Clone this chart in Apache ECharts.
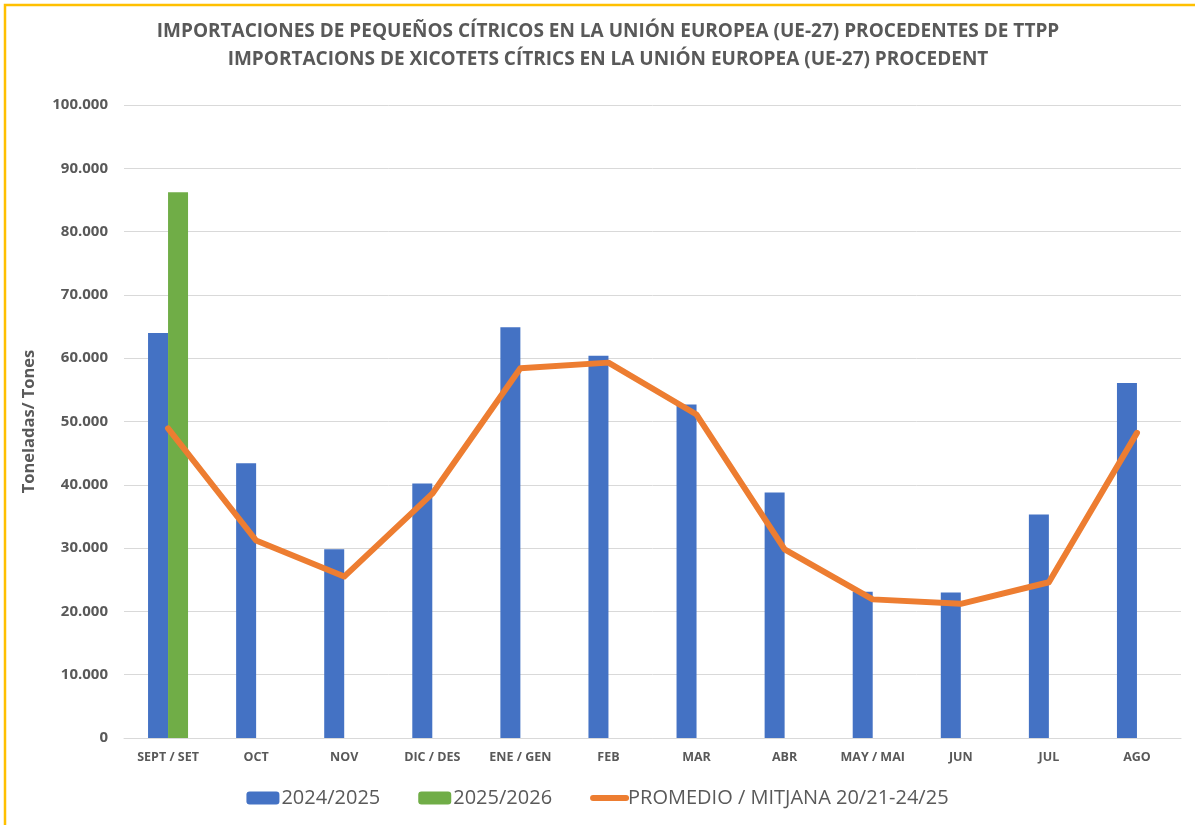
<!DOCTYPE html>
<html>
<head>
<meta charset="utf-8">
<script src="https://cdn.jsdelivr.net/npm/echarts@6/dist/echarts.min.js"></script>
<style>
  html, body { margin: 0; padding: 0; background: #fff; }
  #chart { width: 1195px; height: 825px; }
</style>
</head>
<body>
<div id="chart"></div>
<script>
// categories (months of the campaign)
const months = ['SEPT / SET', 'OCT', 'NOV', 'DIC / DES', 'ENE / GEN', 'FEB', 'MAR', 'ABR', 'MAY / MAI', 'JUN', 'JUL', 'AGO'];

// toneladas
const season2425 = [64000, 43400, 29800, 40200, 64900, 60400, 52700, 38800, 23100, 23000, 35300, 56100];
const season2526 = [86200, null, null, null, null, null, null, null, null, null, null, null];
const average2021_2425 = [48900, 31200, 25500, 38600, 58400, 59300, 51100, 29800, 21900, 21200, 24600, 48200];

const seriesNames = ['2024/2025', '2025/2026', 'PROMEDIO / MITJANA 20/21-24/25'];

const fontFam = '"Open Sans", "Noto Sans", sans-serif';
const grey = '#595959';
const orange = '#ED7D31';

const fmtThousands = v => String(v).replace(/\B(?=(\d{3})+(?!\d))/g, '.');

const chart = echarts.init(document.getElementById('chart'));

chart.setOption({
    animation: false,
    textStyle: { fontFamily: fontFam },
    title: {
        text: 'IMPORTACIONES DE PEQUEÑOS CÍTRICOS EN LA UNIÓN EUROPEA (UE-27) PROCEDENTES DE TTPP\nIMPORTACIONS DE XICOTETS CÍTRICS EN LA UNIÓN EUROPEA (UE-27) PROCEDENT',
        left: 603,
        top: 13,
        textAlign: 'center',
        textStyle: {
            fontFamily: fontFam,
            fontSize: 19,
            fontWeight: 'bold',
            color: grey,
            lineHeight: 28
        }
    },
    graphic: [{
        type: 'rect',
        silent: true,
        shape: { x: 5, y: 5, width: 1400, height: 1000 },
        style: { fill: 'none', stroke: '#FFC000', lineWidth: 2.5 }
    }],
    legend: {
        bottom: 12,
        left: 'center',
        itemWidth: 33,
        itemHeight: 13,
        itemGap: 38,
        textStyle: { fontFamily: fontFam, fontSize: 20, color: grey, padding: [0, 0, 0, -3] },
        data: [
            seriesNames[0],
            seriesNames[1],
            { name: seriesNames[2], itemStyle: { opacity: 0 }, lineStyle: { width: 6, cap: 'round' } }
        ]
    },
    grid: {
        left: 124,
        right: 14,
        top: 105,
        bottom: 87
    },
    xAxis: {
        type: 'category',
        data: months,
        axisLine: { lineStyle: { color: '#d9d9d9', width: 1 } },
        axisTick: { show: false },
        axisLabel: {
            interval: 0,
            color: grey,
            fontFamily: fontFam,
            fontSize: 12.5,
            fontWeight: 'bold',
            margin: 13
        }
    },
    yAxis: {
        type: 'value',
        min: 0,
        max: 100000,
        interval: 10000,
        name: 'Toneladas/ Tones',
        nameLocation: 'middle',
        nameGap: 86,
        nameTextStyle: { fontFamily: fontFam, fontSize: 16.5, fontWeight: 'bold', color: grey },
        axisLine: { show: false },
        axisTick: { show: false },
        splitLine: { lineStyle: { color: '#d9d9d9', width: 1 } },
        axisLabel: {
            color: grey,
            fontFamily: fontFam,
            fontSize: 15,
            fontWeight: 'bold',
            margin: 16,
            formatter: v => fmtThousands(v)
        }
    },
    series: [
        {
            name: seriesNames[0],
            type: 'bar',
            barWidth: 20,
            barGap: '0%',
            itemStyle: { color: '#4472C4' },
            data: season2425
        },
        {
            name: seriesNames[1],
            type: 'bar',
            barWidth: 20,
            barGap: '0%',
            itemStyle: { color: '#70AD47' },
            data: season2526
        },
        {
            name: seriesNames[2],
            type: 'line',
            symbol: 'none',
            z: 5,
            lineStyle: { color: orange, width: 6, cap: 'round', join: 'round' },
            itemStyle: { color: orange },
            data: average2021_2425
        }
    ]
});
</script>
</body>
</html>
